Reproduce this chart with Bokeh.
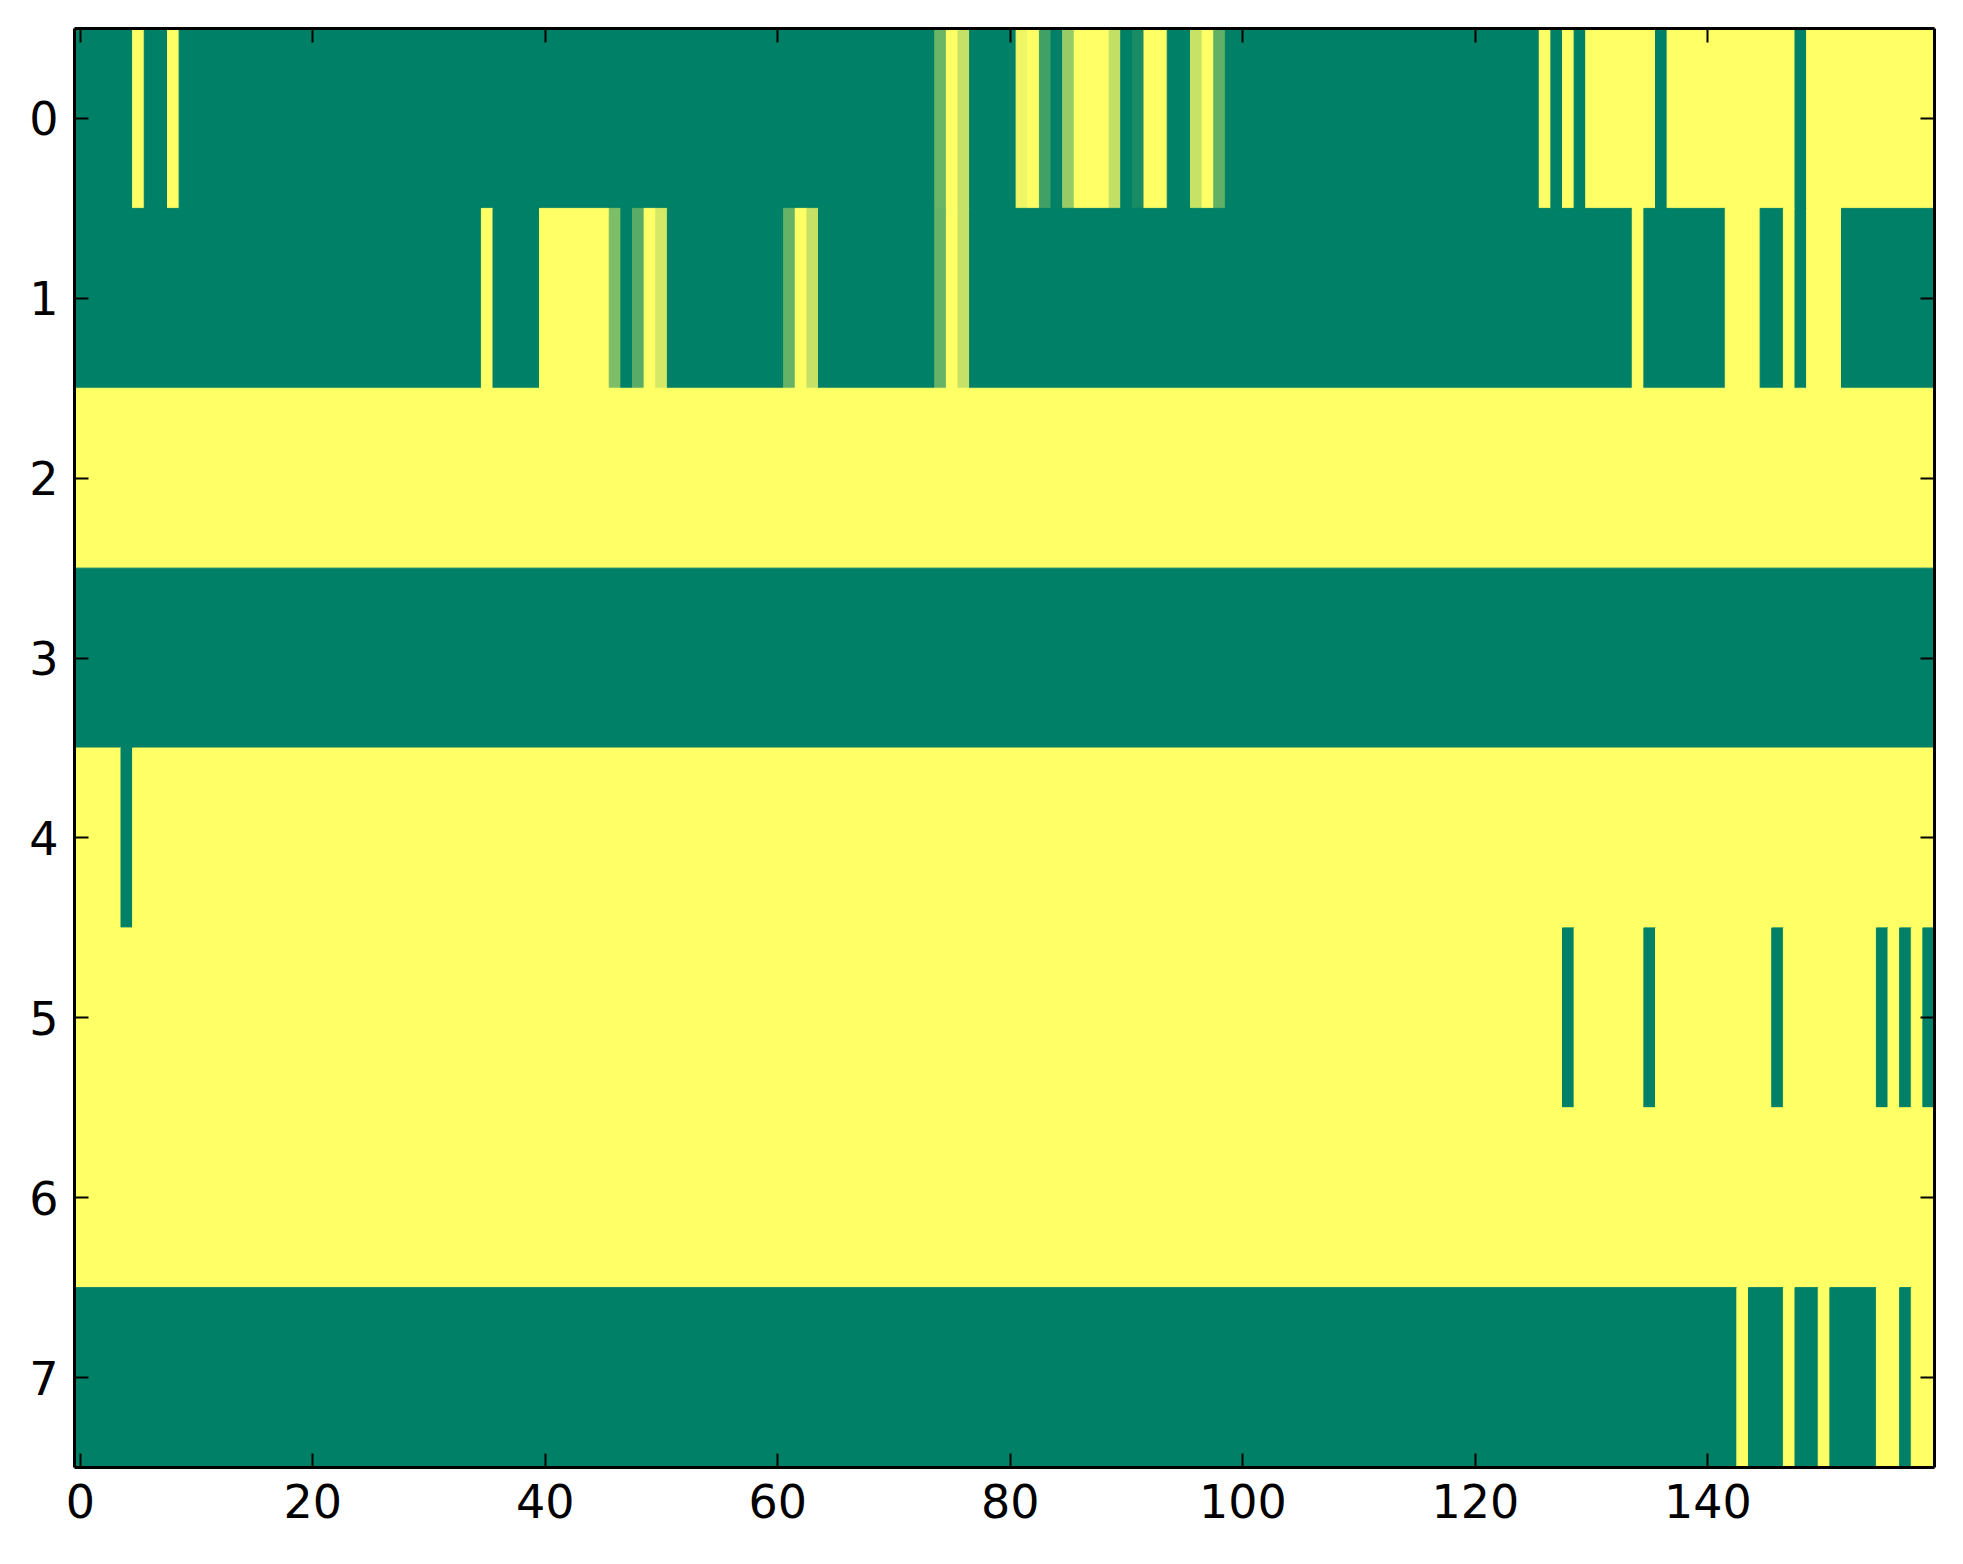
from bokeh.plotting import figure
from bokeh.models import Range1d, FixedTicker, LinearAxis, ColumnDataSource, CustomJSTickFormatter
from bokeh.transform import linear_cmap
from bokeh.embed import file_html
from bokeh.resources import INLINE

# ---------------- data ----------------
N_COLS = 160
y_tick_values = [0, 1, 2, 3, 4, 5, 6, 7]
x_tick_values = [0, 20, 40, 60, 80, 100, 120, 140]

# each row: list of (first column, last column, value), inclusive
row_0 = [(0, 4, 0.0), (5, 5, 1.0), (6, 7, 0.0), (8, 8, 1.0), (9, 73, 0.0),
         (74, 74, 0.42), (75, 75, 1.0), (76, 76, 0.77), (77, 80, 0.0),
         (81, 81, 0.93), (82, 82, 1.0), (83, 83, 0.25), (84, 84, 0.0),
         (85, 85, 0.59), (86, 88, 1.0), (89, 89, 0.76), (90, 90, 0.0),
         (91, 91, 0.10), (92, 93, 1.0), (94, 95, 0.0), (96, 96, 0.78),
         (97, 97, 1.0), (98, 98, 0.38), (99, 125, 0.0), (126, 126, 1.0),
         (127, 127, 0.0), (128, 128, 1.0), (129, 129, 0.0), (130, 135, 1.0),
         (136, 136, 0.0), (137, 147, 1.0), (148, 148, 0.0), (149, 159, 1.0)]
row_1 = [(0, 34, 0.0), (35, 35, 1.0), (36, 39, 0.0), (40, 45, 1.0),
         (46, 46, 0.49), (47, 47, 0.0), (48, 48, 0.35), (49, 49, 1.0),
         (50, 50, 0.83), (51, 60, 0.0), (61, 61, 0.40), (62, 62, 1.0),
         (63, 63, 0.77), (64, 73, 0.0), (74, 74, 0.40), (75, 75, 1.0),
         (76, 76, 0.77), (77, 133, 0.0), (134, 134, 1.0), (135, 141, 0.0),
         (142, 144, 1.0), (145, 146, 0.0), (147, 147, 1.0), (148, 148, 0.0),
         (149, 151, 1.0), (152, 159, 0.0)]
row_2 = [(0, 159, 1.0)]
row_3 = [(0, 159, 0.0)]
row_4 = [(0, 3, 1.0), (4, 4, 0.0), (5, 159, 1.0)]
row_5 = [(0, 127, 1.0), (128, 128, 0.0), (129, 134, 1.0), (135, 135, 0.0),
         (136, 145, 1.0), (146, 146, 0.0), (147, 154, 1.0), (155, 155, 0.0),
         (156, 156, 1.0), (157, 157, 0.0), (158, 158, 1.0), (159, 159, 0.0)]
row_6 = [(0, 159, 1.0)]
row_7 = [(0, 142, 0.0), (143, 143, 1.0), (144, 146, 0.0), (147, 147, 1.0),
         (148, 149, 0.0), (150, 150, 1.0), (151, 154, 0.0), (155, 156, 1.0),
         (157, 157, 0.0), (158, 159, 1.0)]
rows = [row_0, row_1, row_2, row_3, row_4, row_5, row_6, row_7]

# ---------------- colormap (matplotlib "summer") ----------------
summer = []
for i in range(256):
    t = i / 255.0
    summer.append("#%02x%02x%02x" % (int(round(255 * t)),
                                     int(round(255 * (0.5 + 0.5 * t))),
                                     int(round(255 * 0.4))))

xs, ys, ws, vs = [], [], [], []
for r, runs in enumerate(rows):
    covered = 0
    for a, b, v in runs:
        xs.append((a + b) / 2.0)
        ys.append(r)
        ws.append(b - a + 1)
        vs.append(v)
        covered += b - a + 1
    assert covered == N_COLS

src = ColumnDataSource(dict(x=xs, y=ys, w=ws, v=vs))

p = figure(frame_width=1860, frame_height=1439,
           x_range=Range1d(-0.5, N_COLS - 0.5), y_range=Range1d(7.5, -0.5),
           output_backend="svg", toolbar_location=None,
           min_border_left=74, min_border_right=21,
           min_border_top=28, min_border_bottom=89,
           x_axis_location="below", y_axis_location="left")
p.grid.visible = False
p.outline_line_color = None
p.background_fill_color = "white"
p.border_fill_color = "white"

cmap = linear_cmap("v", summer, 0.0, 1.0)
p.rect(x="x", y="y", width="w", height=1.0, source=src,
       fill_color=cmap, line_color=cmap, line_width=1)

p.add_layout(LinearAxis(), "above")
p.add_layout(LinearAxis(), "right")

FONT = "DejaVu Sans"
for ax in p.xaxis:
    ax.ticker = FixedTicker(ticks=x_tick_values)
for ax in p.yaxis:
    ax.ticker = FixedTicker(ticks=y_tick_values)

for ax in list(p.xaxis) + list(p.yaxis):
    ax.axis_line_color = "black"
    ax.axis_line_width = 3
    ax.major_tick_in = 14
    ax.major_tick_out = 0
    ax.major_tick_line_width = 2
    ax.major_tick_line_color = "black"
    ax.minor_tick_line_color = None
    ax.major_label_text_font = FONT
    ax.major_label_text_font_size = "46px"
    ax.major_label_text_color = "black"
    ax.axis_label = None

p.below[0].major_label_standoff = 16
p.left[0].major_label_standoff = 16
p.above[0].formatter = CustomJSTickFormatter(code="return ''")
p.right[0].formatter = CustomJSTickFormatter(code="return ''")
p.above[0].major_label_standoff = 0
p.right[0].major_label_standoff = 0

open("out.html", "w").write(file_html(p, INLINE))
